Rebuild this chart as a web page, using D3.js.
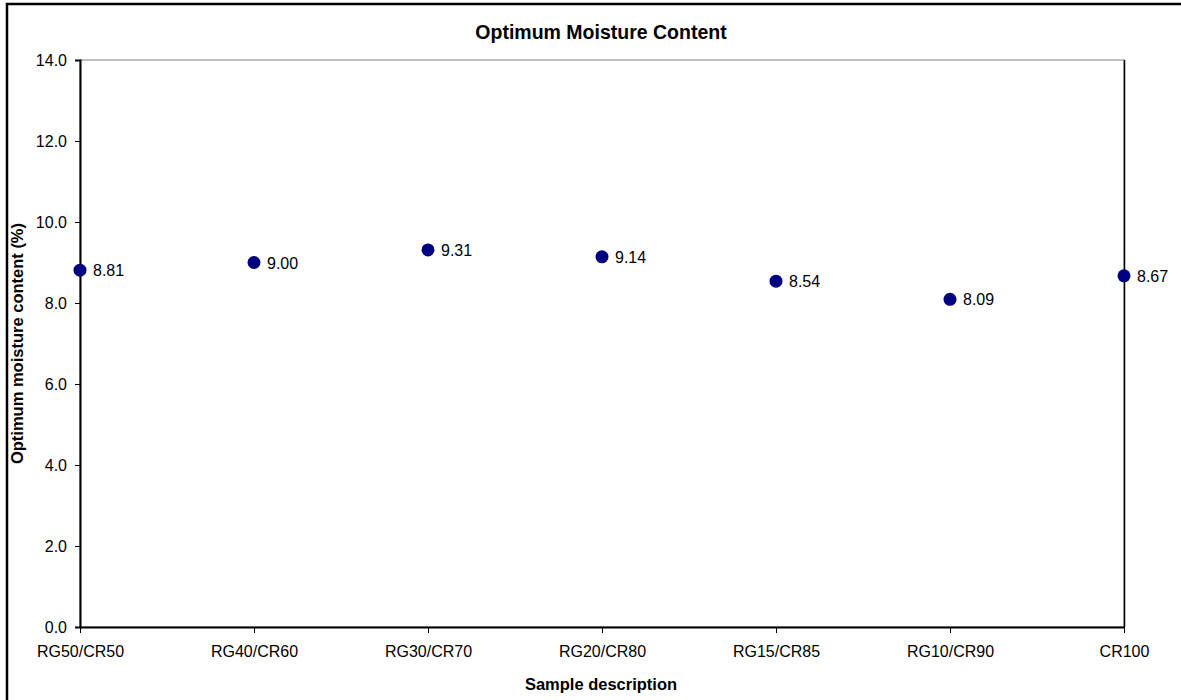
<!DOCTYPE html>
<html>
<head>
<meta charset="utf-8">
<script src="https://cdn.jsdelivr.net/npm/d3@7"></script>
<style>
  html, body { margin: 0; padding: 0; background: #fff; }
  svg { display: block; font-family: "Liberation Sans", Arial, sans-serif; }
</style>
</head>
<body>
<svg id="chart" width="1181" height="700"></svg>
<script>
// Sample mixes and their optimum moisture content (%)
const categories = ["RG50/CR50", "RG40/CR60", "RG30/CR70", "RG20/CR80", "RG15/CR85", "RG10/CR90", "CR100"];
const moisture = [8.81, 9.00, 9.31, 9.14, 8.54, 8.09, 8.67];
const yTicks = [0, 2, 4, 6, 8, 10, 12, 14];

const svg = d3.select("#chart");
const W = 1181, H = 700;
const m = { left: 80, top: 60, right: 1124, bottom: 627 };
const FONT = "Liberation Sans, Arial, sans-serif";

// Outer chart frame
svg.append("rect")
  .attr("x", 7).attr("y", 4)
  .attr("width", W + 10).attr("height", H + 10)
  .attr("fill", "#fff").attr("stroke", "#000").attr("stroke-width", 2.5);

const x = d3.scalePoint().domain(categories).range([m.left, m.right]).padding(0);
const y = d3.scaleLinear().domain([0, 14]).range([m.bottom, m.top]);

// Plot area border
svg.append("rect")
  .attr("x", m.left).attr("y", m.top)
  .attr("width", m.right - m.left).attr("height", m.bottom - m.top)
  .attr("fill", "none").attr("stroke", "#808080").attr("stroke-width", 1);
svg.append("line")
  .attr("x1", m.right + 0.5).attr("x2", m.right + 0.5)
  .attr("y1", m.top).attr("y2", m.bottom)
  .attr("stroke", "#000").attr("stroke-width", 1.5);

// Y axis
const yAxis = svg.append("g")
  .attr("transform", `translate(${m.left},0)`)
  .call(d3.axisLeft(y).tickValues(yTicks).tickFormat(d3.format(".1f")).tickSize(5).tickPadding(8));
yAxis.select(".domain").attr("stroke", "#000").attr("stroke-width", 2);
yAxis.selectAll(".tick line").attr("stroke", "#000");
yAxis.selectAll("text").attr("font-size", 16).attr("fill", "#000").attr("font-family", FONT);

// X axis
const xAxis = svg.append("g")
  .attr("transform", `translate(0,${m.bottom})`)
  .call(d3.axisBottom(x).tickSize(6).tickPadding(13).tickSizeOuter(0));
xAxis.select(".domain").attr("stroke", "#000").attr("stroke-width", 2);
xAxis.selectAll(".tick line").attr("stroke", "#000");
xAxis.selectAll("text").attr("font-size", 16).attr("fill", "#000").attr("font-family", FONT);

// Data points
const pts = categories.map((c, i) => ({ c, v: moisture[i] }));
svg.append("g").selectAll("circle")
  .data(pts).join("circle")
  .attr("cx", d => x(d.c)).attr("cy", d => y(d.v))
  .attr("r", 6.5).attr("fill", "#000080");

// Value labels
svg.append("g").selectAll("text")
  .data(pts).join("text")
  .attr("x", d => x(d.c) + 13).attr("y", d => y(d.v) + 6)
  .attr("font-size", 16).attr("fill", "#000")
  .text(d => d.v.toFixed(2));

// Titles
svg.append("text")
  .attr("x", 601).attr("y", 39).attr("text-anchor", "middle")
  .attr("font-size", 19.5).attr("font-weight", "bold")
  .text("Optimum Moisture Content");

svg.append("text")
  .attr("x", 601).attr("y", 690).attr("text-anchor", "middle")
  .attr("font-size", 16.5).attr("font-weight", "bold")
  .text("Sample description");

svg.append("text")
  .attr("transform", `translate(23,${(m.top + m.bottom) / 2}) rotate(-90)`)
  .attr("text-anchor", "middle")
  .attr("font-size", 16.5).attr("font-weight", "bold")
  .text("Optimum moisture content (%)");
</script>
</body>
</html>
